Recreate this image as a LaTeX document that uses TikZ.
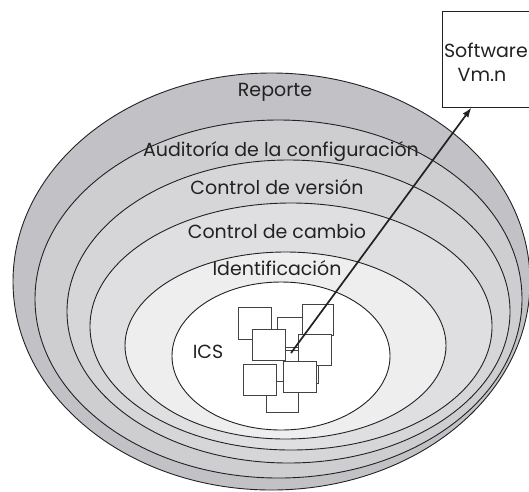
\documentclass[tikz,border=0pt]{standalone}
\usepackage{fontspec}
\setmainfont{Poppins}
\usetikzlibrary{arrows.meta}
\definecolor{cA}{HTML}{C2C2C6}
\definecolor{cB}{HTML}{CECED1}
\definecolor{cC}{HTML}{D6D6D9}
\definecolor{cD}{HTML}{DFDFE1}
\definecolor{cE}{HTML}{EEEEEF}
\definecolor{ln}{HTML}{222222}
\begin{document}
\begin{tikzpicture}[x=1pt,y=-1pt,
  ring/.style={draw=ln,line width=0.9pt},
  lbl/.style={font=\fontsize{19}{22}\selectfont,text=ln,inner sep=0pt},
  sq/.style={draw=ln!85,line width=0.9pt,fill=white},
  swbox/.style={draw=ln,line width=0.9pt,fill=white,minimum width=100pt,minimum height=96pt,inner sep=0pt}]
\useasboundingbox (0,0) rectangle (529,491);
% nested rings
\draw[ring,fill=cA] (271.5,281.5) ellipse [x radius=258.5,y radius=208.5];
\draw[ring,fill=cB] (278.5,299) ellipse [x radius=243.5,y radius=179];
\draw[ring,fill=cC] (288.5,311.5) ellipse [x radius=221.5,y radius=151.5];
\draw[ring,fill=cD] (291,326.5) ellipse [x radius=201,y radius=123.5];
\draw[ring,fill=cE] (285.5,345.5) ellipse [x radius=160.5,y radius=93.5];
\draw[ring,fill=white] (281,356) ellipse [x radius=109,y radius=74];
% labels
\node[lbl] (rep) at (275,92) {Reporte};
\node[lbl] (aud) at (281,152) {Auditoría de la configuración};
\node[lbl] (ver) at (277,187) {Control de versión};
\node[lbl] (cam) at (277,231) {Control de cambio};
\node[lbl] (ide) at (277,268) {Identificación};
\node[lbl] (ics) at (208,352) {ICS};
% configuration items
\draw[sq] (266,381) rectangle (298,412);
\draw[sq] (285,350) rectangle (318,383);
\draw[sq] (277,317) rectangle (310,347);
\draw[sq] (238,307) rectangle (271,339);
\draw[sq] (252,329) rectangle (285,360);
\draw[sq] (302,304) rectangle (333,335);
\draw[sq] (298,334) rectangle (331,365);
\draw[sq] (283,361) rectangle (316,392);
\draw[sq] (243,364) rectangle (276,395);
% software box
\node[swbox] (sw) at (492,59) {};
\node[lbl,anchor=east] (swt) at (528,50) {Software};
\node[lbl] (swv) at (482,75) {Vm.n};
\coordinate (src) at (291,353);
\coordinate (tip) at ([xshift=30pt]sw.south west);
\draw[draw=ln,line width=1.7pt,-{Latex[length=10pt,width=7pt]}] (src) -- (tip);
\end{tikzpicture}
\end{document}
